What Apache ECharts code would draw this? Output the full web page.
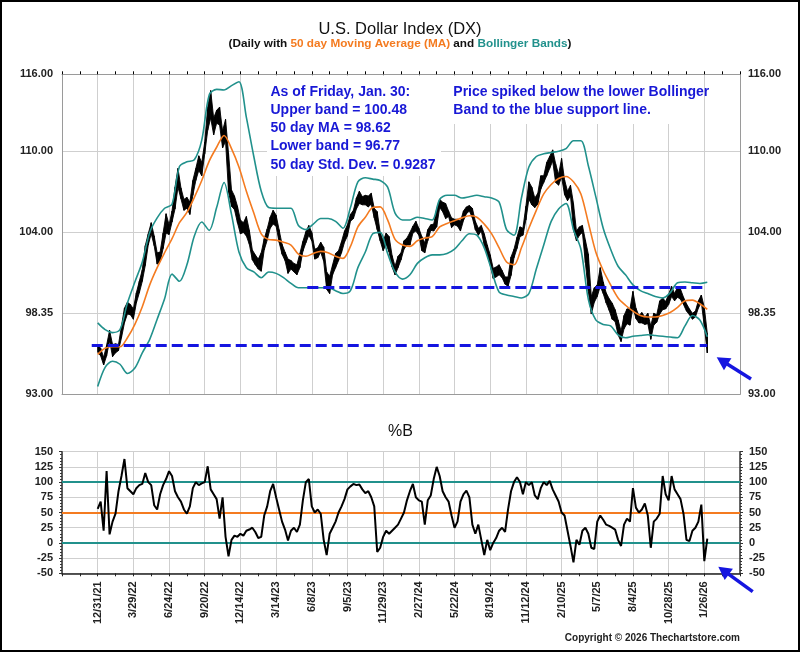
<!DOCTYPE html>
<html>
<head>
<meta charset="utf-8">
<title>U.S. Dollar Index (DX)</title>
<script src="https://cdn.jsdelivr.net/npm/echarts@6/dist/echarts.min.js"></script>
<style>
  html, body { margin: 0; padding: 0; background: #fff; }
  #chart { width: 800px; height: 653px; }
</style>
</head>
<body>
<div id="chart"></div>
<script>
// x is counted in 5-trading-day blocks from 12/31/21; a date label every 12 blocks
const xTicks = ['12/31/21', '3/29/22', '6/24/22', '9/20/22', '12/14/22', '3/14/23', '6/8/23', '9/5/23',
  '11/29/23', '2/27/24', '5/22/24', '8/19/24', '11/12/24', '2/10/25', '5/7/25', '8/4/25', '10/28/25', '1/26/26'];
const priceTicks = [93, 98.35, 104, 110, 116];

// price range per block (low / high)
const priceLo = [
  95.75, 95.5, 94.9, 95.5, 96.5, 95.45, 95.7, 95.85, 96.7, 97.7, 98.3, 98.25,
  97.95, 99.05, 99.75, 100.55, 101.65, 103.1, 103.9, 103.05, 101.75, 101.9, 102.85, 103.95,
  103.85, 104.75, 105.7, 107.3, 106.45, 105.6, 105.75, 105.3, 106.7, 107.8, 108.55, 108.15,
  109.8, 111.6, 112.55, 111.25, 112.15, 112.0, 110.25, 110.75, 106.95, 105.9, 105.65, 104.7,
  103.9, 104.0, 103.75, 103.15, 102.05, 101.7, 101.4, 101.25, 102.75, 103.45, 104.3, 104.6,
  104.45, 103.3, 102.45, 102.0, 101.1, 101.4, 101.2, 101.0, 101.5, 102.65, 103.25, 103.8,
  103.4, 102.1, 102.2, 102.6, 101.95, 100.0, 99.7, 101.0, 101.5, 102.0, 102.55, 103.3,
  103.75, 104.8, 105.0, 105.7, 106.1, 106.0, 106.0, 105.85, 106.05, 105.05, 104.2, 103.4,
  102.7, 103.15, 102.6, 101.55, 101.0, 101.5, 102.05, 102.8, 103.1, 103.1, 103.95, 104.1,
  103.8, 102.7, 102.55, 103.4, 104.15, 104.1, 104.4, 105.8, 105.5, 105.0, 105.15, 104.35,
  104.55, 104.45, 104.1, 104.85, 105.35, 105.55, 105.05, 104.2, 103.8, 104.1, 103.1, 102.4,
  101.7, 100.75, 100.85, 101.0, 100.8, 100.35, 100.2, 100.95, 102.2, 102.85, 103.7, 103.8,
  104.9, 106.4, 106.0, 105.8, 106.05, 107.15, 107.65, 108.15, 108.7, 109.25, 107.65, 107.45,
  108.05, 106.75, 106.3, 106.65, 104.2, 103.4, 103.8, 104.0, 101.85, 99.85, 98.3, 99.1,
  99.5, 100.2, 99.7, 99.05, 98.55, 97.95, 97.8, 96.9, 96.45, 97.3, 97.65, 97.55,
  98.75, 98.0, 97.7, 97.7, 97.6, 97.65, 96.6, 97.55, 97.75, 98.3, 98.6, 98.65,
  98.95, 99.5, 99.2, 99.45, 99.3, 98.95, 98.5, 98.25, 97.95, 98.1, 98.7, 99.1,
  97.45, 95.7
];
const priceHi = [
  96.25, 96.0, 95.4, 96.2, 97.2, 96.25, 96.3, 96.25, 97.5, 98.7, 99.1, 98.95,
  98.65, 99.75, 100.55, 101.35, 103.05, 103.9, 104.7, 103.75, 102.55, 102.6, 103.95, 105.35,
  104.55, 105.55, 107.3, 108.7, 107.25, 106.4, 106.55, 106.2, 107.8, 108.7, 109.65, 109.15,
  110.7, 113.4, 114.7, 112.55, 113.15, 113.4, 111.55, 112.45, 109.85, 107.1, 106.65, 105.9,
  104.9, 104.7, 105.15, 104.15, 102.75, 102.4, 102.1, 102.55, 103.55, 104.25, 105.1, 105.6,
  105.25, 104.2, 103.15, 102.6, 102.1, 102.0, 101.8, 101.7, 102.5, 103.35, 104.05, 104.5,
  104.0, 102.8, 102.9, 103.3, 102.95, 101.2, 100.9, 101.7, 102.5, 102.7, 103.35, 104.1,
  104.55, 105.3, 105.6, 106.5, 107.0, 106.6, 106.7, 106.65, 106.85, 105.75, 105.5, 104.0,
  103.4, 103.95, 103.7, 102.35, 101.6, 102.3, 102.55, 103.4, 103.6, 104.0, 104.45, 104.8,
  104.3, 103.7, 103.25, 104.2, 104.55, 104.6, 105.7, 106.4, 106.2, 106.1, 105.55, 105.05,
  104.95, 104.95, 104.8, 105.55, 105.85, 105.95, 105.75, 104.8, 104.3, 104.5, 103.9, 103.1,
  102.4, 101.45, 101.55, 101.7, 101.3, 100.85, 100.85, 102.25, 102.8, 103.65, 104.4, 104.3,
  105.9, 107.7, 107.3, 106.5, 106.85, 108.15, 108.15, 109.15, 109.6, 110.1, 109.05, 108.25,
  109.45, 107.85, 107.0, 107.45, 106.1, 104.1, 104.4, 104.5, 103.45, 102.45, 99.5, 100.1,
  100.3, 101.5, 100.5, 99.75, 99.35, 99.05, 98.6, 97.9, 97.15, 98.2, 98.65, 98.65,
  99.85, 98.7, 98.2, 98.4, 98.1, 98.35, 97.5, 98.35, 98.25, 99.2, 99.4, 99.15,
  99.65, 100.2, 99.7, 100.15, 100.0, 99.45, 99.0, 98.65, 98.35, 98.5, 99.2, 99.6,
  98.75, 97.0
];

// 50 day MA and Bollinger bands, one value every 2.5 blocks
const maLine = [
  95.6, 96.0, 96.1, 96.1, 96.7, 97.6, 98.8, 100.3, 101.5, 102.55,
  103.55, 104.7, 105.45, 106.55, 107.8, 109.25, 110.3, 111.2, 110.2, 108.8,
  107.0, 105.4, 103.9, 103.5, 103.45, 103.3, 103.1, 102.45, 102.3, 102.5,
  102.65, 102.55, 102.3, 102.15, 103.0, 104.4, 105.1, 105.8, 105.85, 104.9,
  103.5, 103.1, 103.0, 103.4, 103.6, 103.7, 104.4, 104.65, 104.85, 105.05,
  105.2, 105.1, 104.6, 103.9, 102.9, 101.9, 101.7, 102.9, 104.3, 105.6,
  106.8, 107.5, 107.95, 108.1, 107.7, 106.8, 104.7, 102.6, 101.3, 100.3,
  99.4, 98.9, 98.5, 98.2, 98.1, 98.1, 98.2, 98.4, 98.75, 99.2,
  99.25, 99.0, 98.62
];
const upperBand = [
  97.7, 97.25, 97.05, 97.25, 99.05, 100.5, 101.9, 104.0, 105.05, 105.75,
  106.05, 108.85, 109.2, 109.35, 110.85, 114.35, 114.8, 114.75, 115.1, 115.4,
  112.6, 109.6, 107.0, 105.8, 105.75, 105.75, 105.75, 104.5, 104.2, 104.6,
  105.0, 105.0, 104.8, 104.3, 105.8, 107.7, 108.0, 107.9, 107.8, 107.3,
  105.4, 104.9, 104.9, 105.1, 105.0, 104.9, 106.4, 106.7, 106.7, 106.5,
  106.6, 106.7, 106.6, 106.5, 106.2, 104.2, 103.8, 106.5, 108.8, 109.6,
  109.8, 109.9, 110.0, 110.2, 110.8, 110.8, 108.9, 106.6, 104.3, 102.8,
  101.6, 101.0, 100.3, 99.9, 99.7, 99.5, 99.4, 99.75, 100.45, 100.5,
  100.45, 100.4, 100.48
];
const lowerBand = [
  93.5, 94.75, 95.15, 94.95, 94.35, 94.7, 95.7, 96.6, 97.95, 99.35,
  101.05, 100.55, 101.7, 103.75, 104.75, 104.15, 105.8, 107.65, 105.3, 102.6,
  101.5, 101.2, 100.8, 101.2, 101.1, 100.8, 100.4, 100.1, 100.1, 100.1,
  100.1, 100.1, 99.9, 99.7, 99.9, 101.5, 102.6, 103.9, 104.0, 102.5,
  101.2, 100.7, 101.0, 101.8, 102.2, 102.4, 102.4, 102.5, 102.8, 103.4,
  103.9, 103.8, 102.9, 101.3, 99.8, 99.6, 99.5, 99.4, 99.7, 101.4,
  103.1, 104.8, 105.7, 106.1, 104.2, 102.8, 99.3, 97.9, 97.6, 97.5,
  96.9, 96.7, 96.8, 96.85, 96.9, 96.85, 96.8, 96.75, 96.7, 97.5,
  98.2, 97.9, 96.77
];

// %B per block
const pctB = [
  56, 68, 20, 118, 14, 35, 48, 85, 110, 138, 90, 85,
  80, 90, 95, 97, 115, 100, 95, 62, 55, 80, 95, 105,
  118, 110, 85, 75, 68, 55, 48, 60, 90, 100, 95, 98,
  100, 126, 88, 80, 72, 40, 75, 10, -22, 5, 12, 10,
  15, 12, 20, 22, 25, 18, 8, 10, 45, 60, 85, 97,
  75, 55, 35, 22, 4, 20, 25, 18, 30, 70, 100, 105,
  60, 50, 55, 48, 5, -20, 15, 25, 35, 50, 60, 72,
  88, 93, 97, 95, 96, 88, 82, 85, 75, 60, -15, -8,
  10, 20, 15, 20, 25, 30, 40, 50, 70, 85, 97, 75,
  70, 68, 30, 70, 78, 105, 125, 110, 85, 75, 68, 45,
  25, 35, 68, 80, 86, 75, 30, 15, 30, 5, -20, 5,
  -12, 0, 8, 20, 25, 18, 55, 85, 100, 108, 100, 80,
  100, 95, 100, 78, 72, 90, 100, 95, 102, 88, 78, 68,
  50, 45, 20, -5, -32, 5, -3, 20, 25, 15, -8, -10,
  35, 45, 38, 30, 28, 25, 22, 5, -5, 30, 40, 35,
  90, 58, 50, 55, 65, 45, -8, 35, 40, 48, 110, 80,
  70, 110, 88, 80, 72, 48, 5, 3, 20, 25, 35, 63,
  -30, 7
];
const pctLevels = [100, 50, 0];

// blue support lines: [from block, to block, level]
const supportLines = [[-2, 205, 96.2], [70.5, 205, 100.13]];

const FONT = '"Liberation Sans", Arial, sans-serif';
const TEAL = '#21918c';
const ORANGE = '#f47b20';
const BLUE = '#1515e0';
const GRID = '#cfcfcf';

const chart = echarts.init(document.getElementById('chart'));

function arrow(tipX, tipY, tailX, tailY) {
    const dx = tipX - tailX, dy = tipY - tailY;
    const len = Math.sqrt(dx * dx + dy * dy);
    const ux = dx / len, uy = dy / len;
    const head = 13, half = 7;
    const bx = tipX - ux * head, by = tipY - uy * head;
    return [{
        type: 'line', z: 20,
        shape: { x1: tailX, y1: tailY, x2: bx + ux * 2, y2: by + uy * 2 },
        style: { stroke: BLUE, lineWidth: 3.5 }
    }, {
        type: 'polygon', z: 20,
        shape: { points: [[tipX, tipY], [bx - uy * half, by + ux * half], [bx + uy * half, by - ux * half]] },
        style: { fill: BLUE }
    }];
}

const noteStyle = { fill: '#1818d6', font: 'bold 14px ' + FONT, textVerticalAlign: 'middle' };
const leftNote = ['As of Friday, Jan. 30:', 'Upper band = 100.48', '50 day MA = 98.62',
    'Lower band = 96.77', '50 day Std. Dev. = 0.9287'];
const rightNote = ['Price spiked below the lower Bollinger', 'Band to the blue support line.'];

const graphics = [
    { type: 'rect', z: 30, shape: { x: 1, y: 1, width: 798, height: 650 },
      style: { fill: 'none', stroke: '#000', lineWidth: 2 } },
    { type: 'rect', z: 1, shape: { x: 267, y: 76, width: 174, height: 100 }, style: { fill: '#fff' } },
    { type: 'rect', z: 1, shape: { x: 450, y: 76, width: 254, height: 48 }, style: { fill: '#fff' } },
    { type: 'text', z: 10, x: 400, y: 29,
      style: { text: 'U.S. Dollar Index (DX)', fill: '#111', font: '16.5px ' + FONT,
               textAlign: 'center', textVerticalAlign: 'middle' } },
    { type: 'text', z: 10, x: 400, y: 44,
      style: {
          text: '{k|(Daily with }{o|50 day Moving Average (MA)}{k| and }{t|Bollinger Bands}{k|)}',
          textAlign: 'center', textVerticalAlign: 'middle',
          rich: {
              k: { fill: '#111', font: 'bold 11.75px ' + FONT },
              o: { fill: ORANGE, font: 'bold 11.75px ' + FONT },
              t: { fill: TEAL, font: 'bold 11.75px ' + FONT }
          }
      } },
    { type: 'text', z: 10, x: 400.5, y: 432,
      style: { text: '%B', fill: '#111', font: '16px ' + FONT, textAlign: 'center', textVerticalAlign: 'middle' } },
    { type: 'text', z: 10, x: 740, y: 638,
      style: { text: 'Copyright \u00a9 2026 Thechartstore.com', fill: '#222', font: 'bold 10px ' + FONT,
               textAlign: 'right', textVerticalAlign: 'middle' } }
];
leftNote.forEach((t, i) => graphics.push({ type: 'text', z: 10, x: 270.5, y: 91.7 + i * 18.3,
    style: Object.assign({ text: t }, noteStyle) }));
rightNote.forEach((t, i) => graphics.push({ type: 'text', z: 10, x: 453.3, y: 91.7 + i * 18.3,
    style: Object.assign({ text: t }, noteStyle) }));
graphics.push(...arrow(716.7, 357.3, 751, 379));
graphics.push(...arrow(718.3, 566.7, 752.7, 591.7));

const priceAxis = (position, showSplit) => ({
    type: 'log', gridIndex: 0, position: position, min: 93, max: 116,
    axisLine: { show: true, onZero: false, lineStyle: { color: '#9a9a9a' } },
    axisTick: { show: false, customValues: priceTicks },
    axisLabel: { customValues: priceTicks, formatter: v => Number(v).toFixed(2), margin: position === 'left' ? 9 : 8,
                 color: '#222', fontSize: 11, fontWeight: 'bold', fontFamily: FONT },
    splitLine: { show: showSplit, lineStyle: { color: GRID } }
});
const pctAxis = (position, showSplit) => ({
    type: 'value', gridIndex: 1, position: position, min: -50, max: 150, interval: 25,
    axisLine: { show: true, onZero: false, lineStyle: { color: '#333', width: 1.5 } },
    axisTick: { show: true, length: 3, lineStyle: { color: '#333' } },
    minorTick: { show: true, splitNumber: 5, length: 2, lineStyle: { color: '#333' } },
    axisLabel: { margin: 9, color: '#222', fontSize: 11, fontWeight: 'bold', fontFamily: FONT },
    splitLine: { show: showSplit, lineStyle: { color: GRID } }
});

const option = {
    animation: false,
    backgroundColor: '#fff',
    grid: [
        { left: 62, right: 60, top: 74.3, height: 320 },
        { left: 62, right: 60, top: 451.7, height: 121.6 }
    ],
    xAxis: [
        { type: 'value', gridIndex: 0, min: -12, max: 216, interval: 12, position: 'bottom',
          axisLine: { onZero: false, lineStyle: { color: '#9a9a9a' } }, axisTick: { show: false },
          axisLabel: { show: false }, splitLine: { show: true, lineStyle: { color: GRID } } },
        { type: 'value', gridIndex: 0, min: -12, max: 216, interval: 6, position: 'top',
          axisLine: { onZero: false, lineStyle: { color: '#9a9a9a' } },
          axisTick: { show: true, length: 3, lineStyle: { color: '#000' } },
          axisLabel: { show: false }, splitLine: { show: false } },
        { type: 'value', gridIndex: 1, min: -12, max: 216, interval: 12, position: 'bottom',
          axisLine: { onZero: false, lineStyle: { color: '#222', width: 1.5 } },
          axisTick: { show: true, length: 3, lineStyle: { color: '#222' } },
          minorTick: { show: true, splitNumber: 2, length: 3, lineStyle: { color: '#222' } },
          axisLabel: {
              rotate: 90, margin: 8, color: '#222', fontSize: 11, fontWeight: 'bold', fontFamily: FONT,
              showMinLabel: true, showMaxLabel: true,
              formatter: v => { const k = Math.round(v / 12); return k >= 0 && k < xTicks.length ? xTicks[k] : ''; }
          },
          splitLine: { show: true, lineStyle: { color: GRID } } }
    ],
    yAxis: [priceAxis('left', true), priceAxis('right', false), pctAxis('left', true), pctAxis('right', false)],
    graphic: graphics,
    series: [
        {
            type: 'custom', name: 'DX', xAxisIndex: 0, yAxisIndex: 0, z: 3,
            data: priceLo.map((lo, i) => [i, lo, priceHi[i]]),
            renderItem(params, api) {
                const i = params.dataIndexInside;
                const n = params.dataInsideLength;
                const j = i < n - 1 ? i + 1 : i;
                const x0 = api.value(0), x1 = api.value(0, j);
                const p = [
                    api.coord([x0, api.value(2)]),
                    api.coord([x1, api.value(2, j)]),
                    api.coord([x1, api.value(1, j)]),
                    api.coord([x0, api.value(1)])
                ];
                return {
                    type: 'polygon',
                    shape: { points: p },
                    style: { fill: '#000', stroke: '#000', lineWidth: 0.9 }
                };
            }
        },
        {
            type: 'line', name: '50 day MA', xAxisIndex: 0, yAxisIndex: 0, z: 4,
            data: maLine.map((v, k) => [k * 2.5, v]), showSymbol: false, smooth: 0.3,
            lineStyle: { color: ORANGE, width: 1.6 }
        },
        {
            type: 'line', name: 'Upper band', xAxisIndex: 0, yAxisIndex: 0, z: 4,
            data: upperBand.map((v, k) => [k * 2.5, v]), showSymbol: false, smooth: 0.3,
            lineStyle: { color: TEAL, width: 1.6 }
        },
        {
            type: 'line', name: 'Lower band', xAxisIndex: 0, yAxisIndex: 0, z: 4,
            data: lowerBand.map((v, k) => [k * 2.5, v]), showSymbol: false, smooth: 0.3,
            lineStyle: { color: TEAL, width: 1.6 }
        },
        {
            type: 'line', name: 'Support', xAxisIndex: 0, yAxisIndex: 0, z: 6, data: [],
            markLine: {
                silent: true, symbol: 'none', label: { show: false },
                lineStyle: { color: BLUE, width: 3, type: [11, 5] },
                data: supportLines.map(s => [{ coord: [s[0], s[2]] }, { coord: [s[1], s[2]] }])
            }
        },
        {
            type: 'line', name: 'Levels', xAxisIndex: 2, yAxisIndex: 2, z: 2, data: [],
            markLine: {
                silent: true, symbol: 'none', label: { show: false },
                data: pctLevels.map(v => ({ yAxis: v, lineStyle: { color: v === 50 ? ORANGE : TEAL, width: 2.2, type: 'solid' } }))
            }
        },
        {
            type: 'line', name: '%B', xAxisIndex: 2, yAxisIndex: 2, z: 5,
            data: pctB.map((v, i) => [i, v]), showSymbol: false,
            lineStyle: { color: '#000', width: 2 }
        }
    ]
};
chart.setOption(option);
</script>
</body>
</html>
